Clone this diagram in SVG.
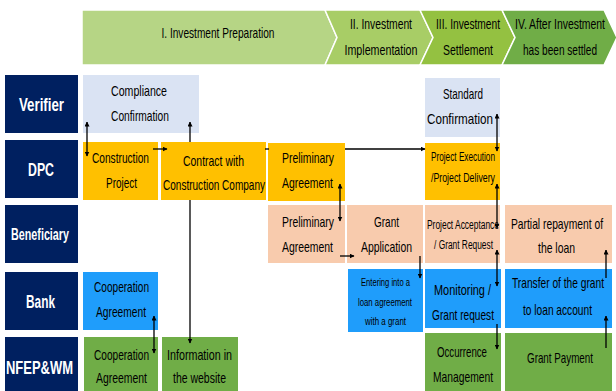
<svg xmlns="http://www.w3.org/2000/svg" width="616" height="391" viewBox="0 0 616 391">
<style>
.t{font-family:"Liberation Sans",Arial,sans-serif;font-size:15px;text-anchor:middle;fill:#000}
.s{font-size:12.5px}
.lane{fill:#002060}
.lt{font-family:"Liberation Sans",Arial,sans-serif;font-weight:bold;fill:#fff;text-anchor:middle;font-size:19px}
.ph{stroke:#fff;stroke-width:1.5}
.lb{fill:#dae3f3}
.ye{fill:#ffc000}
.pe{fill:#f8cbad}
.bl{fill:#1f9dfb}
.gr{fill:#70ad47}
.c{stroke:#000;stroke-width:1.3;fill:none}
</style>
<defs>
<marker id="a" viewBox="0 0 10 10" refX="9" refY="5" markerWidth="5" markerHeight="5" orient="auto-start-reverse" markerUnits="userSpaceOnUse">
<path d="M0,0L10,5L0,10z" fill="#000"/>
</marker>
</defs>
<rect width="616" height="391" fill="#fff"/>
<g id="phases">
<polygon class="ph" points="82,10 325,10 337,37.5 325,65 82,65" fill="#b6d585"/>
<polygon class="ph" points="325,10 420,10 433,37.5 420,65 325,65 337,37.5" fill="#a8cd66"/>
<polygon class="ph" points="420,10 502,10 515,37.5 502,65 420,65 433,37.5" fill="#94c141"/>
<polygon class="ph" points="502,10 604,10 617,37.5 604,65 502,65 515,37.5" fill="#70ad47"/>
<text class="t" x="218" y="38" textLength="113" lengthAdjust="spacingAndGlyphs">I. Investment Preparation</text>
<text class="t" x="381" y="29" textLength="62" lengthAdjust="spacingAndGlyphs">II. Investment</text>
<text class="t" x="381" y="55" textLength="73" lengthAdjust="spacingAndGlyphs">Implementation</text>
<text class="t" x="468" y="29" textLength="64" lengthAdjust="spacingAndGlyphs">III. Investment</text>
<text class="t" x="468" y="55" textLength="50" lengthAdjust="spacingAndGlyphs">Settlement</text>
<text class="t" x="560" y="29" textLength="90" lengthAdjust="spacingAndGlyphs">IV. After Investment</text>
<text class="t" x="560" y="55" textLength="74" lengthAdjust="spacingAndGlyphs">has been settled</text>
</g>
<g id="lane-verifier"><rect class="lane" x="5" y="75" width="73" height="58"/><text class="lt" x="41.5" y="111" textLength="45" lengthAdjust="spacingAndGlyphs">Verifier</text></g>
<g id="lane-dpc"><rect class="lane" x="5" y="140" width="73" height="58"/><text class="lt" x="41" y="176" textLength="26" lengthAdjust="spacingAndGlyphs">DPC</text></g>
<g id="lane-beneficiary"><rect class="lane" x="5" y="205" width="73" height="58"/><text class="lt" x="40" y="240" style="font-size:16px" textLength="58" lengthAdjust="spacingAndGlyphs">Beneficiary</text></g>
<g id="lane-bank"><rect class="lane" x="5" y="272" width="73" height="58"/><text class="lt" x="40.5" y="308" textLength="29" lengthAdjust="spacingAndGlyphs">Bank</text></g>
<g id="lane-nfep"><rect class="lane" x="5" y="337" width="73" height="54"/><text class="lt" x="39.5" y="374" textLength="67" lengthAdjust="spacingAndGlyphs">NFEP&amp;WM</text></g>

<g id="compliance"><rect class="lb" x="83" y="75" width="116" height="58"/><text class="t" x="139" y="96" textLength="56" lengthAdjust="spacingAndGlyphs">Compliance</text><text class="t" x="140" y="121" textLength="58" lengthAdjust="spacingAndGlyphs">Confirmation</text></g>
<g id="standard"><rect class="lb" x="425" y="78" width="75" height="59"/><text class="t" x="463" y="99" textLength="40" lengthAdjust="spacingAndGlyphs">Standard</text><text class="t" x="460" y="124" textLength="66" lengthAdjust="spacingAndGlyphs">Confirmation</text></g>
<g id="construction"><rect class="ye" x="83" y="142" width="75" height="58"/><text class="t" x="120.5" y="163" textLength="57" lengthAdjust="spacingAndGlyphs">Construction</text><text class="t" x="121.5" y="188" textLength="31" lengthAdjust="spacingAndGlyphs">Project</text></g>
<g id="contract"><rect class="ye" x="161" y="142" width="105" height="58"/><text class="t" x="213.5" y="166" textLength="61" lengthAdjust="spacingAndGlyphs">Contract with</text><text class="t" x="214" y="190" textLength="102" lengthAdjust="spacingAndGlyphs">Construction Company</text></g>
<g id="prelim-dpc"><rect class="ye" x="268" y="143" width="77" height="58"/><text class="t" x="308" y="163" textLength="52" lengthAdjust="spacingAndGlyphs">Preliminary</text><text class="t" x="307.5" y="188" textLength="51" lengthAdjust="spacingAndGlyphs">Agreement</text></g>
<g id="execution"><rect class="ye" x="425" y="143" width="75" height="57"/><text class="t s" x="463" y="161" textLength="64" lengthAdjust="spacingAndGlyphs">Project Execution</text><text class="t s" x="463" y="182" textLength="64" lengthAdjust="spacingAndGlyphs">/Project Delivery</text></g>
<g id="prelim-ben"><rect class="pe" x="268" y="205" width="77" height="58"/><text class="t" x="308" y="227" textLength="52" lengthAdjust="spacingAndGlyphs">Preliminary</text><text class="t" x="307.5" y="252" textLength="51" lengthAdjust="spacingAndGlyphs">Agreement</text></g>
<g id="grant-app"><rect class="pe" x="347" y="205" width="76" height="58"/><text class="t" x="386.5" y="227" textLength="25" lengthAdjust="spacingAndGlyphs">Grant</text><text class="t" x="386.5" y="252" textLength="51" lengthAdjust="spacingAndGlyphs">Application</text></g>
<g id="acceptance"><rect class="pe" x="425" y="205" width="75" height="58"/><text class="t s" x="463" y="229" textLength="72" lengthAdjust="spacingAndGlyphs">Project Acceptance</text><text class="t s" x="463.5" y="249" textLength="59" lengthAdjust="spacingAndGlyphs">/ Grant Request</text></g>
<g id="repayment"><rect class="pe" x="505" y="205" width="107" height="58"/><text class="t" x="557" y="229" textLength="92" lengthAdjust="spacingAndGlyphs">Partial repayment of</text><text class="t" x="556.5" y="253" textLength="37" lengthAdjust="spacingAndGlyphs">the loan</text></g>
<g id="coop-bank"><rect class="bl" x="83" y="272" width="75" height="58"/><text class="t" x="121.5" y="292" textLength="55" lengthAdjust="spacingAndGlyphs">Cooperation</text><text class="t" x="121" y="317" textLength="50" lengthAdjust="spacingAndGlyphs">Agreement</text></g>
<g id="entering"><rect class="bl" x="348" y="269" width="75" height="63"/><text class="t" style="font-size:11.5px" x="385.5" y="286" textLength="49" lengthAdjust="spacingAndGlyphs">Entering into a</text><text class="t" style="font-size:11.5px" x="385" y="306" textLength="54" lengthAdjust="spacingAndGlyphs">loan agreement</text><text class="t" style="font-size:11.5px" x="385.5" y="325" textLength="41" lengthAdjust="spacingAndGlyphs">with a grant</text></g>
<g id="monitoring"><rect class="bl" x="425" y="269" width="76" height="59"/><text class="t" x="462.5" y="295" textLength="57" lengthAdjust="spacingAndGlyphs">Monitoring /</text><text class="t" x="463" y="320" textLength="62" lengthAdjust="spacingAndGlyphs">Grant request</text></g>
<g id="transfer"><rect class="bl" x="505" y="269" width="107" height="59"/><text class="t" x="558" y="288" textLength="92" lengthAdjust="spacingAndGlyphs">Transfer of the grant</text><text class="t" x="557.5" y="315" textLength="69" lengthAdjust="spacingAndGlyphs">to loan account</text></g>
<g id="coop-nfep"><rect class="gr" x="84" y="337" width="74" height="54"/><text class="t" x="121.5" y="360" textLength="55" lengthAdjust="spacingAndGlyphs">Cooperation</text><text class="t" x="121.5" y="383" textLength="51" lengthAdjust="spacingAndGlyphs">Agreement</text></g>
<g id="website"><rect class="gr" x="162" y="337" width="76" height="54"/><text class="t" x="199.5" y="360" textLength="65" lengthAdjust="spacingAndGlyphs">Information in</text><text class="t" x="199.5" y="383" textLength="53" lengthAdjust="spacingAndGlyphs">the website</text></g>
<g id="occurrence"><rect class="gr" x="425" y="333" width="76" height="58"/><text class="t" x="462" y="357" textLength="50" lengthAdjust="spacingAndGlyphs">Occurrence</text><text class="t" x="463" y="382" textLength="60" lengthAdjust="spacingAndGlyphs">Management</text></g>
<g id="grant-payment"><rect class="gr" x="505" y="333" width="107" height="58"/><text class="t" x="560" y="363" textLength="66" lengthAdjust="spacingAndGlyphs">Grant Payment</text></g>

<g id="connectors">
<path class="c" d="M87,122V156" marker-start="url(#a)" marker-end="url(#a)"/>
<path class="c" d="M190,122V142" marker-start="url(#a)"/>
<path class="c" d="M190,200V343" marker-end="url(#a)"/>
<path class="c" d="M153,149H167" marker-end="url(#a)"/>
<path class="c" d="M265,149H269"/>
<path class="c" d="M345,149H425" marker-end="url(#a)"/>
<path class="c" d="M340,184V221" marker-start="url(#a)" marker-end="url(#a)"/>
<path class="c" d="M340,256H354" marker-end="url(#a)"/>
<path class="c" d="M420,256V278" marker-end="url(#a)"/>
<path class="c" d="M497,114V151" marker-start="url(#a)" marker-end="url(#a)"/>
<path class="c" d="M497,184V228" marker-start="url(#a)" marker-end="url(#a)"/>
<path class="c" d="M497,250V286" marker-start="url(#a)" marker-end="url(#a)"/>
<path class="c" d="M497,324V349" marker-end="url(#a)"/>
<path class="c" d="M606,250V278" marker-start="url(#a)"/>
<path class="c" d="M606,316V348" marker-start="url(#a)"/>
<path class="c" d="M154,316V353" marker-start="url(#a)" marker-end="url(#a)"/>
</g>
</svg>
